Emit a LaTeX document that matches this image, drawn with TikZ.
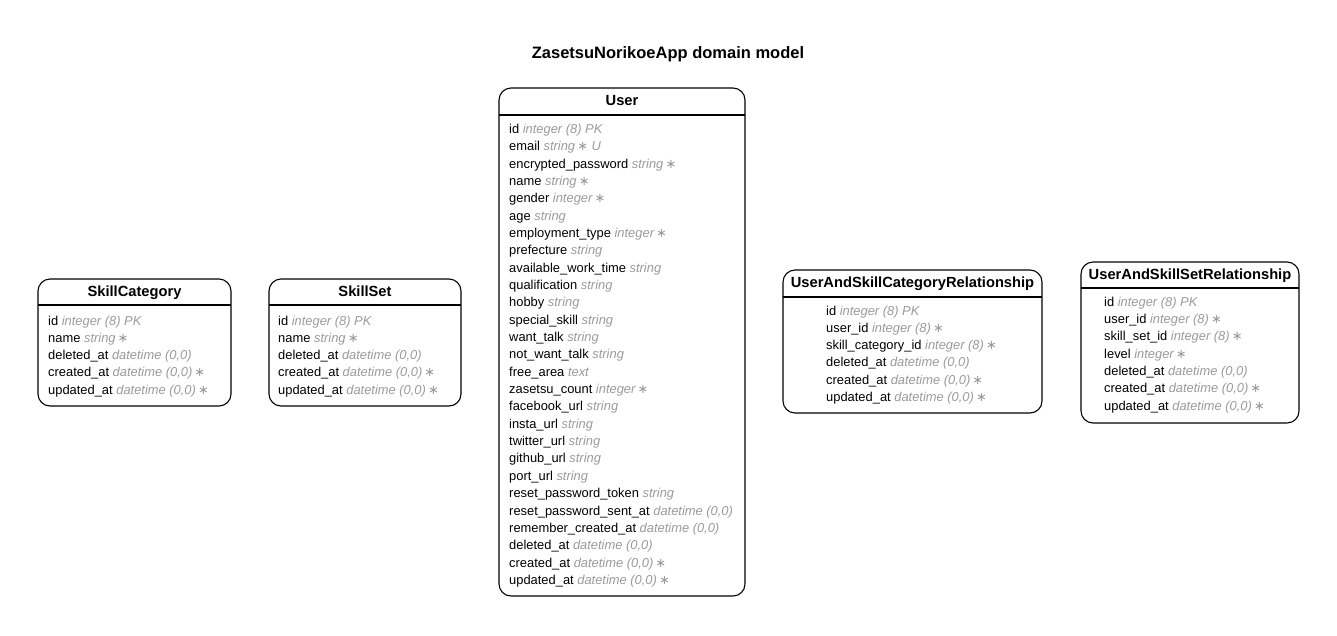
\documentclass[tikz,border=0pt]{standalone}
\usepackage{fontspec}
\setmainfont{Liberation Sans}
\newfontfamily\symfont{DejaVu Sans}
\usetikzlibrary{positioning}
\definecolor{typegray}{HTML}{9A9A9A}

\tikzset{
	box/.style={draw, line width=1.1pt, rounded corners=12pt},
	rule/.style={draw, line width=1.1pt},
	head/.style={anchor=base, inner sep=0pt, font=\bfseries\fontsize{14.7}{16}\selectfont},
	field/.style={anchor=base west, inner sep=0pt, font=\fontsize{12.9}{14}\selectfont},
}
\newcommand{\ty}[1]{\textcolor{typegray}{\itshape #1}}
\newcommand{\req}{\,{\symfont\upshape ∗}}
\newcommand{\dt}{datetime (0,0)}

\begin{document}
\begin{tikzpicture}[x=1pt, y=-1pt]
		\useasboundingbox (0,0) rectangle (1337,635);

		\node[anchor=base, inner sep=0pt, font=\bfseries\fontsize{16.5}{18}\selectfont]
			(title) at (668,58) {ZasetsuNorikoeApp domain model};

		% SkillCategory
		\draw[box] (38,279) rectangle (231,406);
		\draw[rule] (38,305) -- (231,305);
		\node[head] (skillcat) at (134.5,296.3) {SkillCategory};
		\foreach \f/\t [count=\i] in {id/integer (8) PK, name/string\req,
			deleted\_at/\dt, created\_at/\dt\req, updated\_at/\dt\req} {
			\node[field] (skillcat-\i) at (48,{325.3+(\i-1)*17.2}) {\f\ \ty{\t}};
		}

		% SkillSet
		\draw[box] (269,279) rectangle (461,406);
		\draw[rule] (269,305) -- (461,305);
		\node[head] (skillset) at (365,296.3) {SkillSet};
		\foreach \f/\t [count=\i] in {id/integer (8) PK, name/string\req,
			deleted\_at/\dt, created\_at/\dt\req, updated\_at/\dt\req} {
			\node[field] (skillset-\i) at (278,{325.3+(\i-1)*17.2}) {\f\ \ty{\t}};
		}

		% User
		\draw[box] (499,88) rectangle (745,596);
		\draw[rule] (499,115) -- (745,115);
		\node[head] (user) at (622,105.3) {User};
		\foreach \f/\t [count=\i] in {id/integer (8) PK, email/string\req\ U,
			encrypted\_password/string\req, name/string\req, gender/integer\req,
			age/string, employment\_type/integer\req, prefecture/string,
			available\_work\_time/string, qualification/string, hobby/string,
			special\_skill/string, want\_talk/string, not\_want\_talk/string,
			free\_area/text, zasetsu\_count/integer\req, facebook\_url/string,
			insta\_url/string, twitter\_url/string, github\_url/string,
			port\_url/string, reset\_password\_token/string,
			reset\_password\_sent\_at/\dt, remember\_created\_at/\dt,
			deleted\_at/\dt, created\_at/\dt\req, updated\_at/\dt\req} {
			\node[field] (user-\i) at (509,{133.3+(\i-1)*17.35}) {\f\ \ty{\t}};
		}

		% UserAndSkillCategoryRelationship
		\draw[box] (783,270) rectangle (1042,413);
		\draw[rule] (783,297) -- (1042,297);
		\node[head] (catrel) at (912.5,287.3) {UserAndSkillCategoryRelationship};
		\foreach \f/\t [count=\i] in {id/integer (8) PK, user\_id/integer (8)\req,
			skill\_category\_id/integer (8)\req, deleted\_at/\dt,
			created\_at/\dt\req, updated\_at/\dt\req} {
			\node[field] (catrel-\i) at (826,{315.3+(\i-1)*17.2}) {\f\ \ty{\t}};
		}

		% UserAndSkillSetRelationship
		\draw[box] (1081,262) rectangle (1299,423);
		\draw[rule] (1081,288) -- (1299,288);
		\node[head] (setrel) at (1190,279.3) {UserAndSkillSetRelationship};
		\foreach \f/\t [count=\i] in {id/integer (8) PK, user\_id/integer (8)\req,
			skill\_set\_id/integer (8)\req, level/integer\req, deleted\_at/\dt,
			created\_at/\dt\req, updated\_at/\dt\req} {
			\node[field] (setrel-\i) at (1104,{306.3+(\i-1)*17.3}) {\f\ \ty{\t}};
		}
	\end{tikzpicture}
\end{document}
